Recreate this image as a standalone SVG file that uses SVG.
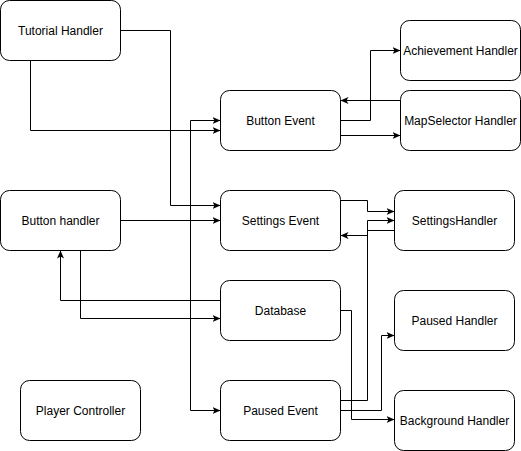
<svg xmlns="http://www.w3.org/2000/svg" width="521" height="451" viewBox="0 0 521 451">
<style>
.node rect{fill:#fff;stroke:#000;stroke-width:1}
.node text{font-family:"Liberation Sans",Arial,sans-serif;font-size:12px;fill:#000;text-anchor:middle}
.edge{fill:none;stroke:#000;stroke-width:1}
</style>
<defs>
<marker id="arr" viewBox="0 0 8 8" refX="8" refY="4" markerWidth="8" markerHeight="8" markerUnits="userSpaceOnUse" orient="auto-start-reverse">
<path d="M0,0.5 L8,4 L0,7.5 L2,4 Z" fill="#000"/>
</marker>
</defs>
<rect width="521" height="451" fill="#fff"/>
<g transform="translate(0.5,0.5)">
<g id="connectors">
<path class="edge" d="M120,30 H170 V205 H220" marker-end="url(#arr)"/>
<path class="edge" d="M30,60 V130 H220" marker-end="url(#arr)"/>
<path class="edge" d="M220,120 H190 V410 H220" marker-start="url(#arr)" marker-end="url(#arr)"/>
<path class="edge" d="M120,220 H220" marker-end="url(#arr)"/>
<path class="edge" d="M220,300 H60 V250" marker-end="url(#arr)"/>
<path class="edge" d="M80,250 V318 H220" marker-end="url(#arr)"/>
<path class="edge" d="M340,120 H370 V50 H400" marker-end="url(#arr)"/>
<path class="edge" d="M400,100 H340" marker-end="url(#arr)"/>
<path class="edge" d="M340,135 H400" marker-end="url(#arr)"/>
<path class="edge" d="M340,200 H367 V211 H394" marker-end="url(#arr)"/>
<path class="edge" d="M340,400 H367 V220 H394" marker-end="url(#arr)"/>
<path class="edge" d="M394,230 H367 V235 H340" marker-end="url(#arr)"/>
<path class="edge" d="M340,310 H351 V419 H394" marker-end="url(#arr)"/>
<path class="edge" d="M340,410 H381 V335 H394" marker-end="url(#arr)"/>
</g>
<g id="tutorial-handler" class="node"><rect x="0" y="0" width="120" height="60" rx="9"/><text x="60" y="34">Tutorial Handler</text></g>
<g id="button-event" class="node"><rect x="220" y="90" width="120" height="60" rx="9"/><text x="280" y="124">Button Event</text></g>
<g id="achievement-handler" class="node"><rect x="400" y="20" width="120" height="60" rx="9"/><text x="460" y="54">Achievement Handler</text></g>
<g id="mapselector-handler" class="node"><rect x="400" y="90" width="120" height="60" rx="9"/><text x="460" y="124">MapSelector Handler</text></g>
<g id="button-handler" class="node"><rect x="0" y="190" width="120" height="60" rx="9"/><text x="60" y="224">Button handler</text></g>
<g id="settings-event" class="node"><rect x="220" y="190" width="120" height="60" rx="9"/><text x="280" y="224">Settings Event</text></g>
<g id="settings-handler" class="node"><rect x="394" y="190" width="120" height="60" rx="9"/><text x="454" y="224">SettingsHandler</text></g>
<g id="database" class="node"><rect x="220" y="280" width="120" height="60" rx="9"/><text x="280" y="314">Database</text></g>
<g id="paused-handler" class="node"><rect x="394" y="290" width="120" height="60" rx="9"/><text x="454" y="324">Paused Handler</text></g>
<g id="player-controller" class="node"><rect x="20" y="380" width="120" height="60" rx="9"/><text x="80" y="414">Player Controller</text></g>
<g id="paused-event" class="node"><rect x="220" y="380" width="120" height="60" rx="9"/><text x="280" y="414">Paused Event</text></g>
<g id="background-handler" class="node"><rect x="394" y="390" width="120" height="60" rx="9"/><text x="454" y="424">Background Handler</text></g>
</g>
</svg>
